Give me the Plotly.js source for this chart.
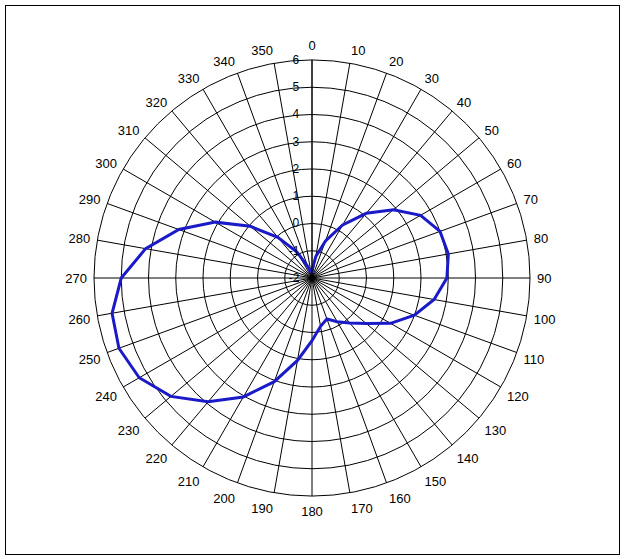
<!DOCTYPE html>
<html>
<head>
<meta charset="utf-8">
<script src="https://cdn.plot.ly/plotly-3.0.1.min.js"></script>
<style>
html,body{margin:0;padding:0;background:#fff;}
#wrap{position:relative;width:624px;height:559px;}
#chart{width:624px;height:559px;}
#frame{position:absolute;left:5px;top:5px;width:613px;height:548px;border:1px solid #000;pointer-events:none;}
</style>
</head>
<body>
<div id="wrap"><div id="chart"></div><div id="frame"></div></div>
<script>
const angles = [0,10,20,30,40,50,60,70,80,90,100,110,120,130,140,150,160,170,180,190,200,210,220,230,240,250,260,270,280,290,300,310,320,330,340,350,360];
const values = [-1.7,-1.2,-0.55,0.25,1.1,1.9,2.6,3.0,3.08,2.95,2.55,2.0,1.33,0.6,0.15,-0.15,-0.4,-0.2,0.3,1.07,2.05,3.04,3.93,4.76,5.32,5.54,5.45,5.0,4.2,3.2,2.1,0.95,-0.05,-0.9,-1.55,-1.8,-1.7];
const angleTicks = [0,10,20,30,40,50,60,70,80,90,100,110,120,130,140,150,160,170,180,190,200,210,220,230,240,250,260,270,280,290,300,310,320,330,340,350];
const radialTicks = [-2,-1,0,1,2,3,4,5,6];

Plotly.newPlot('chart', [{
  type: 'scatterpolar',
  mode: 'lines',
  r: values,
  theta: angles,
  line: {color: '#1a1ac8', width: 3},
  showlegend: false
}], {
  width: 624, height: 559,
  margin: {l: 94, r: 94, t: 60, b: 63},
  paper_bgcolor: '#fff',
  font: {family: 'Liberation Sans, Arial, sans-serif', size: 12, color: '#000'},
  polar: {
    bgcolor: '#fff',
    domain: {x: [0, 1], y: [0, 1]},
    angularaxis: {
      rotation: 90, direction: 'clockwise',
      tickmode: 'array', tickvals: angleTicks, ticktext: angleTicks.map(String),
      showgrid: true, gridcolor: '#000', gridwidth: 1,
      linecolor: '#000', linewidth: 1, showline: true,
      ticks: 'outside', ticklen: 4, tickcolor: 'rgba(0,0,0,0)',
      tickfont: {size: 13, color: '#000'}
    },
    radialaxis: {
      range: [-2, 6], tickmode: 'array', tickvals: radialTicks, ticktext: radialTicks.map(String),
      angle: 90, tickangle: 90, side: 'counterclockwise',
      showgrid: true, gridcolor: '#000', gridwidth: 1,
      showline: true, linecolor: '#000', linewidth: 1,
      ticks: 'outside', ticklen: 8, tickcolor: 'rgba(0,0,0,0)',
      tickfont: {size: 12, color: '#000'}
    }
  }
}, {displayModeBar: false, staticPlot: true});
</script>
</body>
</html>
